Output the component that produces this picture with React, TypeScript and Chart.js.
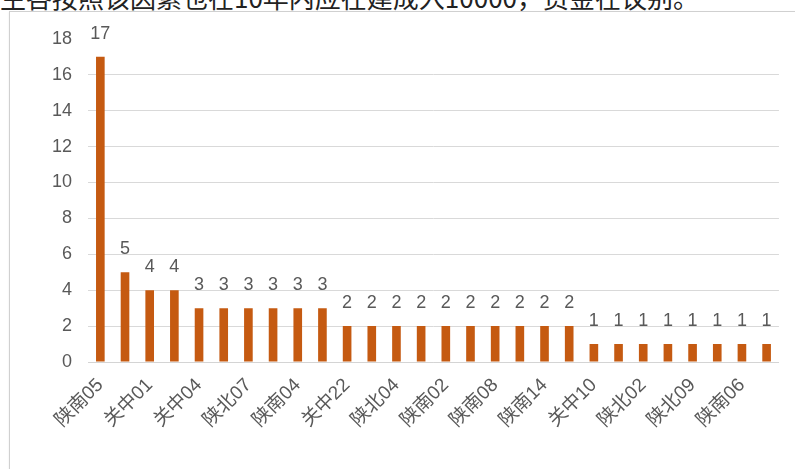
import React, { useEffect, useRef } from "react";
import { Chart, registerables } from "chart.js";

Chart.register(...registerables);

const categories = [
  "陕南05", "关中03", "关中01", "关中02", "关中04", "陕北05",
  "陕北07", "关中07", "陕南04", "陕南09", "关中22", "陕北03",
  "陕北04", "陕南03", "陕南02", "陕南07", "陕南08", "陕南11",
  "陕南14", "关中18", "关中10", "陕北01", "陕北02", "陕北06",
  "陕北09", "陕南12", "陕南06", "陕南10",
];
const counts = [17, 5, 4, 4, 3, 3, 3, 3, 3, 3, 2, 2, 2, 2, 2, 2, 2, 2, 2, 2, 1, 1, 1, 1, 1, 1, 1, 1];
const yTicks = [0, 2, 4, 6, 8, 10, 12, 14, 16, 18];
const headline = "生各按照该因素也在10年内应在建成入10000，资金在议别。";

const FONT = '"Liberation Sans", Arial, "Noto Sans CJK SC", sans-serif';
const TEXT = "#595959";
const BAR = "#C55A11";

const labelPlugin = {
  id: "barLabels",
  afterDatasetsDraw(chart: any) {
    const { ctx } = chart;
    const meta = chart.getDatasetMeta(0);
    ctx.save();
    ctx.font = `18px ${FONT}`;
    ctx.fillStyle = TEXT;
    ctx.textAlign = "center";
    ctx.textBaseline = "alphabetic";
    meta.data.forEach((bar: any, i: number) => {
      ctx.fillText(String(counts[i]), bar.x, bar.y - 18);
    });
    ctx.restore();
  },
};

export default function App() {
  const ref = useRef<HTMLCanvasElement>(null);
  useEffect(() => {
    if (!ref.current) return;
    const chart = new Chart(ref.current, {
      type: "bar",
      data: {
        labels: categories,
        datasets: [
          {
            data: counts,
            backgroundColor: BAR,
            categoryPercentage: 1,
            barPercentage: 0.35,
          },
        ],
      },
      options: {
        animation: false,
        responsive: false,
        maintainAspectRatio: false,
        layout: { padding: { top: 26, right: 15, left: 0, bottom: 0 } },
        plugins: { legend: { display: false }, tooltip: { enabled: false } },
        scales: {
          x: {
            grid: { display: false, drawTicks: false },
            border: { color: "#d4d4d4", width: 1 },
            ticks: {
              autoSkip: false,
              minRotation: 45,
              maxRotation: 45,
              padding: 12,
              color: TEXT,
              font: { size: 19, family: FONT },
              callback: (_v: any, i: number) => (i % 2 === 0 ? categories[i] : ""),
            },
            afterFit: (s: any) => {
              s.height = 107;
            },
          },
          y: {
            min: 0,
            max: 18,
            afterBuildTicks: (s: any) => {
              s.ticks = yTicks.map((v) => ({ value: v }));
            },
            grid: {
              color: (c: any) => (c.tick && c.tick.value === 18 ? "rgba(0,0,0,0)" : "#d9d9d9"),
              drawTicks: false,
            },
            border: { display: false },
            ticks: {
              padding: 16,
              color: TEXT,
              font: { size: 18, family: FONT },
            },
            afterFit: (s: any) => {
              s.width = 79;
            },
          },
        },
      },
      plugins: [labelPlugin],
    });
    return () => chart.destroy();
  }, []);

  return (
    <div
      style={{
        position: "fixed",
        left: 0,
        top: 0,
        width: 795,
        height: 469,
        overflow: "hidden",
        background: "#fff",
      }}
    >
      <div
        style={{
          position: "absolute",
          left: 0,
          top: -18,
          whiteSpace: "nowrap",
          fontFamily: '"Noto Sans CJK SC", sans-serif',
          fontSize: 26,
          lineHeight: "30px",
          color: "#222",
        }}
      >
        {headline}
      </div>
      <div
        style={{
          position: "absolute",
          left: 9,
          top: 11,
          width: 800,
          height: 480,
          borderLeft: "1px solid #d0d0d0",
          borderTop: "1px solid #d0d0d0",
          boxShadow: "0 1px 2px rgba(0,0,0,0.08)",
        }}
      />
      <canvas
        ref={ref}
        width={786}
        height={457}
        style={{ position: "absolute", left: 9, top: 12, width: 786, height: 457 }}
      />
    </div>
  );
}
